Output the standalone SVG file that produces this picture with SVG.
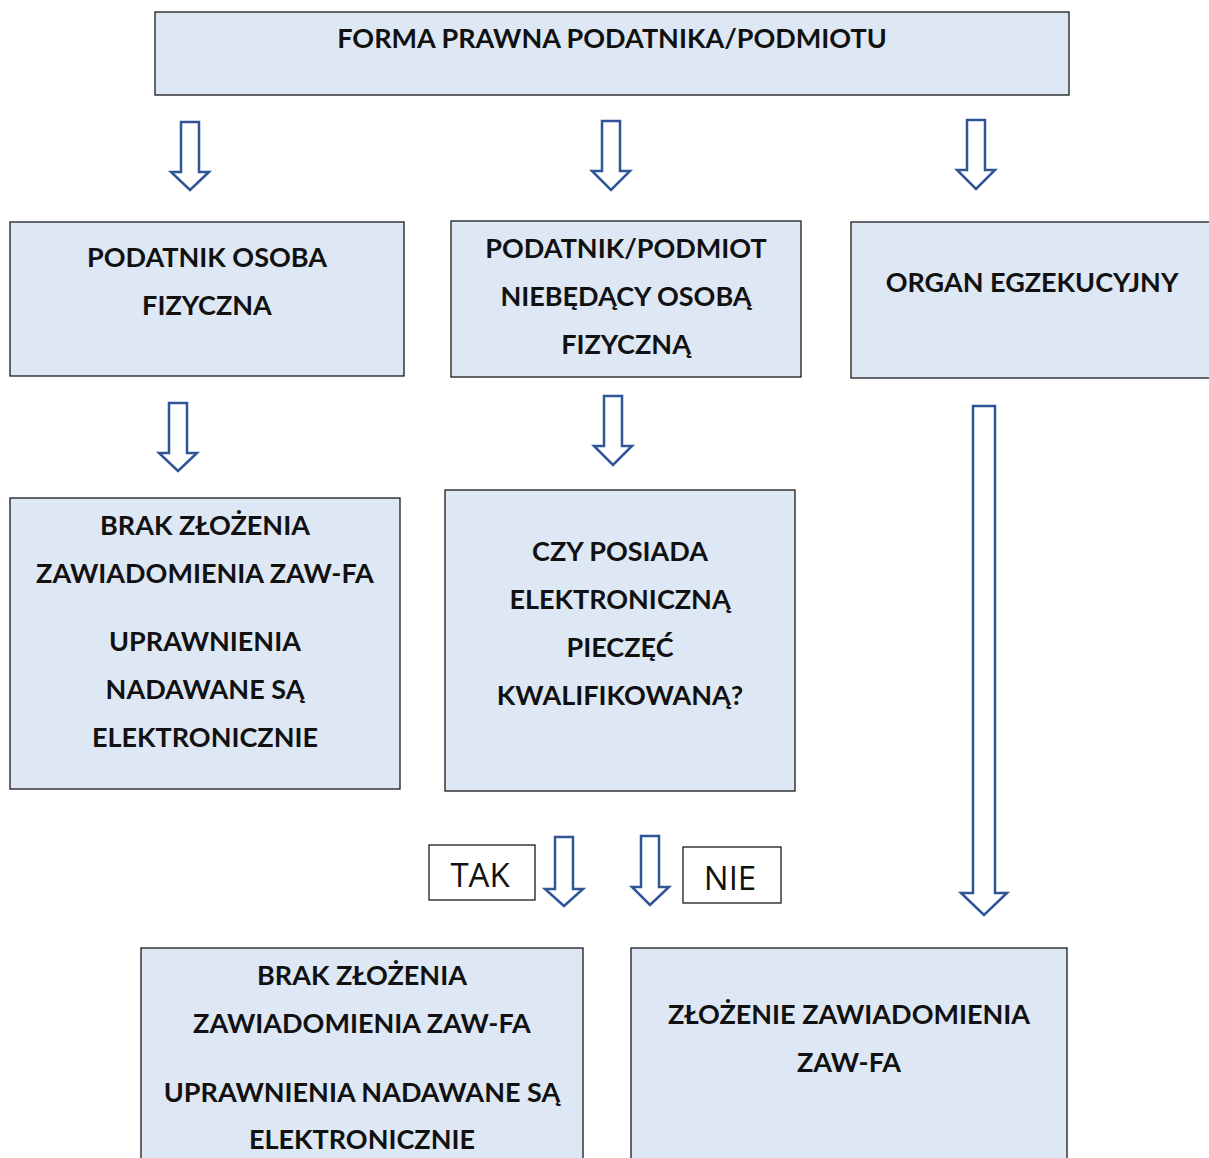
<svg xmlns="http://www.w3.org/2000/svg" width="1209" height="1158" viewBox="0 0 1209 1158">
<style>
.box{fill:#DEE8F4;stroke:#1a1a1a;stroke-width:1.3}
.lbl{fill:#fff;stroke:#1a1a1a;stroke-width:1.3}
.t{font-family:Lato,"Liberation Sans",sans-serif;font-weight:bold;font-size:27px;fill:#111;text-anchor:middle}
.r{font-family:"Open Sans","Liberation Sans",sans-serif;font-size:33px;fill:#111;text-anchor:middle}
.ar{fill:#fff;stroke:#2F5597;stroke-width:2.5;stroke-linejoin:miter}
</style>
<rect width="1209" height="1158" fill="#fff"/>
<g id="top"><rect class="box" x="155" y="12" width="914" height="83"/><text class="t" x="612" y="48">FORMA PRAWNA PODATNIKA/PODMIOTU</text></g>
<g id="fiz"><rect class="box" x="10" y="222" width="394" height="154"/><text class="t" x="207" y="267">PODATNIK OSOBA</text><text class="t" x="207" y="315">FIZYCZNA</text></g>
<g id="niefiz"><rect class="box" x="451" y="221" width="350" height="156"/><text class="t" x="626" y="258">PODATNIK/PODMIOT</text><text class="t" x="626" y="306">NIEBĘDĄCY OSOBĄ</text><text class="t" x="626" y="354">FIZYCZNĄ</text></g>
<g id="organ"><rect class="box" x="851" y="222" width="362" height="156"/><text class="t" x="1032" y="292">ORGAN EGZEKUCYJNY</text></g>
<g id="brak1"><rect class="box" x="10" y="498" width="390" height="291"/><text class="t" x="205" y="535">BRAK ZŁOŻENIA</text><text class="t" x="205" y="583">ZAWIADOMIENIA ZAW-FA</text><text class="t" x="205" y="651">UPRAWNIENIA</text><text class="t" x="205" y="699">NADAWANE SĄ</text><text class="t" x="205" y="747">ELEKTRONICZNIE</text></g>
<g id="czy"><rect class="box" x="445" y="490" width="350" height="301"/><text class="t" x="620" y="561">CZY POSIADA</text><text class="t" x="620" y="609">ELEKTRONICZNĄ</text><text class="t" x="620" y="657">PIECZĘĆ</text><text class="t" x="620" y="705">KWALIFIKOWANĄ?</text></g>
<g id="tak"><rect class="lbl" x="429" y="845" width="106" height="55"/><text class="r" x="480" y="887">TAK</text></g>
<g id="nie"><rect class="lbl" x="683" y="847" width="98" height="56"/><text class="r" x="730" y="890">NIE</text></g>
<g id="brak2"><rect class="box" x="141" y="948" width="442" height="220"/><text class="t" x="362" y="985">BRAK ZŁOŻENIA</text><text class="t" x="362" y="1033">ZAWIADOMIENIA ZAW-FA</text><text class="t" x="362" y="1102">UPRAWNIENIA NADAWANE SĄ</text><text class="t" x="362" y="1149">ELEKTRONICZNIE</text></g>
<g id="zlozenie"><rect class="box" x="631" y="948" width="436" height="220"/><text class="t" x="849" y="1024">ZŁOŻENIE ZAWIADOMIENIA</text><text class="t" x="849" y="1072">ZAW-FA</text></g>
<g id="connectors">
<path class="ar" d="M181,122 H199 V172 H209 L190,190 L171,172 H181 Z"/>
<path class="ar" d="M602,121 H620 V171 H630 L611,190 L592,171 H602 Z"/>
<path class="ar" d="M967,120 H985 V170 H995 L976,189 L957,170 H967 Z"/>
<path class="ar" d="M169,403 H187 V453 H197 L178,471 L159,453 H169 Z"/>
<path class="ar" d="M604,396 H622 V446 H632 L613,465 L594,446 H604 Z"/>
<path class="ar" d="M973,406 H995 V893 H1007 L984,915 L961,893 H973 Z"/>
<path class="ar" d="M555,837 H573 V889 H583 L564,906 L545,889 H555 Z"/>
<path class="ar" d="M641,836 H659 V887 H669 L650,905 L632,887 H641 Z"/>
</g>
</svg>
